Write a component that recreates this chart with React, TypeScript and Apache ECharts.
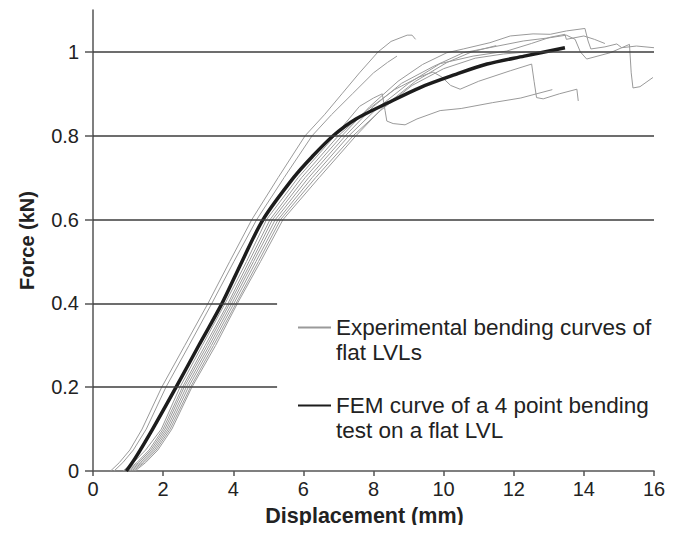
import React, { useEffect, useRef } from "react";
import * as echarts from "echarts";

const xTicks = [0, 2, 4, 6, 8, 10, 12, 14, 16];
const yTicks = [0, 0.2, 0.4, 0.6, 0.8, 1];
const fullGridValues = [1, 0.8, 0.6];
const shortGridValues = [0.4, 0.2];
const shortGridEnd = 5.25;

const expName = "Experimental bending curves of\nflat LVLs";
const femName = "FEM curve of a 4 point bending\ntest on a flat LVL";

type P = [number, number];

const expA1: P[] = [[0.5,0],[0.75,0.02],[1.05,0.05],[1.4,0.1],[1.96,0.2],[2.62,0.3],[3.28,0.4],[3.9,0.5],[4.53,0.6],[5.28,0.7],[6.05,0.8],[6.6,0.85],[7.1,0.9],[7.6,0.95],[8.13,1.0],[8.5,1.025],[8.96,1.04],[9.1,1.04],[9.2,1.03]];
const expA2: P[] = [[0.6,0],[0.85,0.02],[1.15,0.05],[1.52,0.1],[2.08,0.2],[2.74,0.3],[3.39,0.4],[4.02,0.5],[4.67,0.6],[5.45,0.7],[6.25,0.8],[6.8,0.85],[7.4,0.9],[8.0,0.95],[8.4,0.975],[8.67,0.99]];
const expB1: P[] = [[0.85,0],[1.15,0.02],[1.5,0.05],[1.95,0.1],[2.48,0.2],[3.12,0.3],[3.77,0.4],[4.38,0.5],[4.95,0.6],[5.85,0.7],[6.9,0.8],[7.3,0.84],[7.6,0.87],[8.0,0.89],[8.25,0.9],[8.33,0.86],[8.38,0.835],[8.56,0.829],[8.9,0.826],[9.24,0.84],[9.9,0.86],[10.5,0.865],[11.4,0.879],[12.2,0.89],[13.1,0.91]];
const expB2: P[] = [[0.95,0],[1.25,0.02],[1.6,0.05],[2.0,0.1],[2.55,0.2],[3.2,0.3],[3.85,0.4],[4.45,0.5],[5.05,0.6],[5.95,0.7],[7.0,0.8],[7.8,0.86],[8.6,0.91],[9.3,0.94],[9.7,0.952],[9.95,0.94],[10.2,0.92],[10.47,0.911],[11.0,0.93],[11.9,0.955],[12.51,0.971],[12.58,0.93],[12.65,0.891],[12.84,0.888],[13.3,0.9],[13.8,0.911],[13.84,0.883]];
const expB3: P[] = [[1.0,0],[1.3,0.02],[1.65,0.05],[2.05,0.1],[2.6,0.2],[3.26,0.3],[3.9,0.4],[4.52,0.5],[5.12,0.6],[6.05,0.7],[7.1,0.8],[7.9,0.87],[8.7,0.93],[9.4,0.97],[10.09,0.998],[10.56,1.007],[11.32,1.022],[11.9,1.038],[12.55,1.043],[13.04,1.042],[13.5,1.05],[14.03,1.056],[14.12,1.026],[14.2,1.007],[14.6,1.012],[14.94,1.019],[15.08,1.01],[15.5,1.014],[16.0,1.01]];
const expB4: P[] = [[1.05,0],[1.35,0.02],[1.7,0.05],[2.1,0.1],[2.66,0.2],[3.32,0.3],[3.96,0.4],[4.58,0.5],[5.2,0.6],[6.15,0.7],[7.2,0.8],[8.0,0.87],[8.8,0.925],[9.7,0.965],[10.56,0.998],[11.3,1.01],[12.27,1.026],[13.04,1.034],[13.5,1.04],[13.75,1.03],[13.9,1.0],[14.08,0.983],[14.75,0.998],[15.3,1.018],[15.35,0.95],[15.4,0.914],[15.6,0.917],[15.97,0.939]];
const expB5: P[] = [[1.1,0],[1.4,0.02],[1.75,0.05],[2.15,0.1],[2.72,0.2],[3.38,0.3],[4.02,0.4],[4.65,0.5],[5.28,0.6],[6.25,0.7],[7.3,0.8],[8.1,0.865],[9.0,0.925],[9.9,0.972],[10.84,0.99],[11.8,1.002],[12.5,1.02],[13.04,1.035],[13.46,1.042],[13.5,1.03],[14.0,1.038],[14.3,1.03],[14.6,1.02]];
const expB6: P[] = [[1.15,0],[1.45,0.02],[1.8,0.05],[2.2,0.1],[2.78,0.2],[3.44,0.3],[4.08,0.4],[4.72,0.5],[5.35,0.6],[6.35,0.7],[7.42,0.8],[8.2,0.86],[9.1,0.92],[10.0,0.96],[10.9,0.985],[11.7,0.995],[12.4,1.0],[12.9,1.0]];
const expB7: P[] = [[1.2,0],[1.5,0.02],[1.85,0.05],[2.25,0.1],[2.82,0.2],[3.5,0.3],[4.12,0.4],[4.78,0.5],[5.42,0.6],[6.45,0.7],[7.5,0.8],[8.3,0.87],[9.2,0.93],[10.1,0.975],[10.8,1.0],[11.5,1.015]];
const femCurve: P[] = [[0.95,0],[1.2,0.03],[1.7,0.1],[2.37,0.2],[3.02,0.3],[3.68,0.4],[4.25,0.5],[4.85,0.6],[5.72,0.7],[6.25,0.75],[6.85,0.8],[7.5,0.84],[8.4,0.878],[9.33,0.915],[10.3,0.945],[11.24,0.971],[12.3,0.99],[13.46,1.01]];

const expCurves = [expA1, expA2, expB1, expB2, expB3, expB4, expB5, expB6, expB7];

const FONT = "'Liberation Sans', Arial, sans-serif";

export default function App() {
  const ref = useRef<HTMLDivElement>(null);
  useEffect(() => {
    if (!ref.current) return;
    const chart = echarts.init(ref.current, undefined, { renderer: "svg" });
    const gridLineData: any[] = [
      ...fullGridValues.map((v) => ({ yAxis: v })),
      ...shortGridValues.map((v) => [{ coord: [0, v] }, { coord: [shortGridEnd, v] }]),
    ];
    const series: any[] = [
      {
        name: "grid",
        type: "line",
        data: [],
        silent: true,
        z: 1,
        markLine: {
          silent: true,
          symbol: ["none", "none"],
          label: { show: false },
          lineStyle: { color: "#3c3c3c", width: 1.5, type: "solid" },
          data: gridLineData,
        },
      },
      ...expCurves.map((c) => ({
        name: expName,
        type: "line",
        data: c,
        showSymbol: false,
        symbol: "none",
        z: 3,
        lineStyle: { color: "#9a9a9a", width: 1 },
        itemStyle: { color: "#9a9a9a" },
      })),
      {
        name: femName,
        type: "line",
        data: femCurve,
        smooth: 0.3,
        showSymbol: false,
        symbol: "none",
        z: 4,
        lineStyle: { color: "#1c1c1c", width: 3.5 },
        itemStyle: { color: "#1c1c1c" },
      },
    ];
    chart.setOption({
      animation: false,
      backgroundColor: "#ffffff",
      textStyle: { fontFamily: FONT },
      grid: { left: 93, right: 24, top: 10, bottom: 62, containLabel: false },
      legend: {
        data: [
          { name: expName, itemStyle: { opacity: 0 } },
          { name: femName, itemStyle: { opacity: 0 } },
        ],
        orient: "vertical",
        left: 297,
        top: 290,
        padding: 0,
        itemGap: 3,
        itemWidth: 33,
        itemHeight: 14,
        selectedMode: false,
        itemStyle: { opacity: 0 },
        formatter: (name: string) => " \n" + name,
        textStyle: {
          fontFamily: FONT,
          fontSize: 22.5,
          lineHeight: 25,
          color: "#222",
        },
      },
      xAxis: {
        type: "value",
        min: 0,
        max: 16,
        interval: 2,
        name: "Displacement (mm)",
        nameLocation: "middle",
        nameGap: 34,
        nameTextStyle: { fontFamily: FONT, fontSize: 21.5, fontWeight: "bold", color: "#222", padding: [0, 18, 0, 0] },
        axisLine: { show: true, lineStyle: { color: "#555", width: 1.5 } },
        axisTick: { show: true, length: 5, lineStyle: { color: "#555", width: 1.5 } },
        axisLabel: { fontFamily: FONT, fontSize: 20, color: "#222", margin: 8, customValues: xTicks },
        splitLine: { show: false },
      },
      yAxis: {
        type: "value",
        min: 0,
        max: 1.1,
        interval: 0.2,
        name: "Force (kN)",
        nameLocation: "middle",
        nameGap: 56,
        nameTextStyle: { fontFamily: FONT, fontSize: 20, fontWeight: "bold", color: "#222" },
        axisLine: { show: true, lineStyle: { color: "#555", width: 1.5 } },
        axisTick: { show: true, length: 8, customValues: yTicks, lineStyle: { color: "#555", width: 1.5 } },
        axisLabel: { fontFamily: FONT, fontSize: 20, color: "#222", margin: 14, customValues: yTicks },
        splitLine: { show: false },
      },
      series,
    });
    return () => chart.dispose();
  }, []);
  return <div ref={ref} style={{ width: 678, height: 533, margin: -8 }} />;
}
